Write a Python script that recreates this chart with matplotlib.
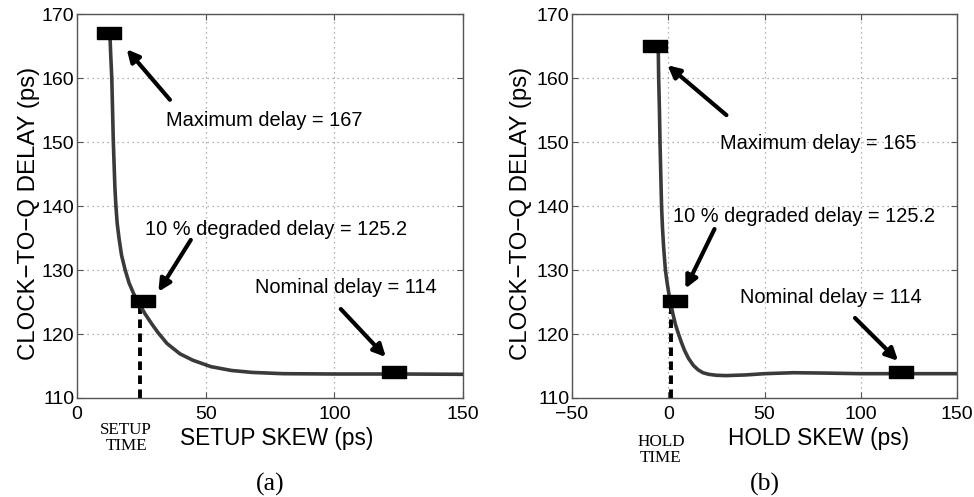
import matplotlib
matplotlib.use('Agg')
import matplotlib.pyplot as plt

plt.rcParams['font.family'] = ['Liberation Sans', 'DejaVu Sans']

# (a) setup skew sweep
setup_skew = [12.8, 13.1, 13.5, 13.8, 14.1, 14.4, 14.7, 15.1, 15.6, 16.3, 17.3, 18.7, 20.2,
              22.0, 24.0, 26.5, 29.0, 31.5, 35.0, 40.0, 45.0, 52.0, 60.0, 68.0, 80.0,
              100.0, 125.0, 150.0]
setup_delay = [166.5, 163.5, 160.0, 155.0, 150.0, 146.5, 143.0, 140.0, 137.3, 135.0, 132.3,
               130.0, 128.0, 126.3, 124.8, 123.1, 121.6, 120.2, 118.5, 116.9, 115.9, 114.9,
               114.3, 114.0, 113.8, 113.75, 113.75, 113.7]
setup_marks_x = [12.3, 25.5, 123.0]
setup_marks_y = [167.0, 125.2, 114.0]
setup_time = 24.6

# (b) hold skew sweep
hold_skew = [-5.2, -5.0, -4.6, -4.3, -3.9, -3.5, -3.0, -2.4, -1.5, -0.6, 0.3, 1.0, 2.5, 3.8,
             5.3, 6.8, 8.5, 10.5, 13.0, 15.5, 18.0, 21.0, 25.0, 30.0, 40.0, 50.0, 65.0,
             80.0, 100.0, 125.0, 150.0]
hold_delay = [164.5, 160.0, 155.0, 150.0, 145.0, 140.0, 136.5, 133.5, 130.0, 128.0, 126.3,
              125.2, 123.0, 121.4, 120.0, 118.7, 117.4, 116.2, 115.1, 114.4, 113.95, 113.7,
              113.55, 113.5, 113.6, 113.8, 113.95, 113.9, 113.8, 113.8, 113.8]
hold_marks_x = [-6.8, 3.3, 121.0]
hold_marks_y = [165.0, 125.2, 114.0]
hold_time = 1.5

setup_notes = [
    ('Maximum delay = 167', (34.5, 153.4), (36.1, 156.6), (19.3, 164.5)),
    ('10 % degraded delay = 125.2', (26.4, 136.3), (44.2, 134.7), (31.6, 126.6)),
    ('Nominal delay = 114', (69.2, 127.3), (102.5, 123.9), (120.0, 116.4)),
]
hold_notes = [
    ('Maximum delay = 165', (26.7, 149.8), (30.2, 154.2), (-0.4, 162.0)),
    ('10 % degraded delay = 125.2', (2.4, 138.3), (24.0, 136.4), (8.9, 127.1)),
    ('Nominal delay = 114', (37.1, 125.7), (97.0, 122.5), (119.4, 115.8)),
]

# wide flat rectangle used as the point marker
rect = [(-1, -0.48), (1, -0.48), (1, 0.48), (-1, 0.48), (-1, -0.48)]

fig = plt.figure(figsize=(9.74, 4.97), dpi=100)
ax1 = fig.add_axes([0.0791, 0.1992, 0.3963, 0.7726])
ax2 = fig.add_axes([0.5873, 0.1992, 0.3953, 0.7726])


def draw_panel(ax, xs, ys, mx, my, tmark, notes, xlim, xticks, xlabel, xlabel_x,
               ylabel_x, tlabel, tlabel_pos, caption):
    ax.plot(xs, ys, color='#3a3a3a', linewidth=2.6, zorder=3)
    ax.plot([tmark, tmark], [110, my[1]], color='black', linestyle=(0, (2.2, 1.4)),
            linewidth=2.8, zorder=2)
    ax.plot(mx, my, linestyle='none', marker=rect, markersize=17.5,
            color='black', zorder=4)
    for text, tpos, tail, head in notes:
        ax.text(tpos[0], tpos[1], text, fontsize=14.4, va='center', ha='left', zorder=5)
        ax.annotate('', xy=head, xytext=tail,
                    arrowprops=dict(arrowstyle='-|>', color='black', lw=3,
                                    mutation_scale=18, shrinkA=0, shrinkB=0))
    ax.set_xlim(*xlim)
    ax.set_ylim(110, 170)
    ax.set_xticks(xticks)
    ax.set_xticklabels([str(t).replace('-', '\u2212') for t in xticks])
    ax.set_yticks([110, 120, 130, 140, 150, 160, 170])
    ax.grid(True, linestyle=(0, (1, 3)), color='#999999', linewidth=0.9)
    ax.tick_params(direction='in', length=4, labelsize=14, pad=2,
                   top=True, right=True, color='#555555')
    ax.tick_params(axis='x', pad=5.5)
    for s in ax.spines.values():
        s.set_color('#555555')
        s.set_linewidth(1.0)
    ax.set_xlabel(xlabel, fontsize=16.3)
    ax.xaxis.set_label_coords(xlabel_x, -0.075)
    ax.xaxis.label.set_va('top')
    ax.set_ylabel('CLOCK\u2212TO\u2212Q DELAY (ps)', fontsize=17.3)
    ax.yaxis.set_label_coords(ylabel_x, 0.48)
    ax.text(tlabel_pos[0], tlabel_pos[1], tlabel, transform=ax.transAxes,
            ha='center', va='top', family='Liberation Serif', fontsize=12.3,
            linespacing=1.05)
    ax.text(0.5, -0.195, caption, transform=ax.transAxes, ha='center', va='top',
            family='Liberation Serif', fontsize=18.5)


draw_panel(ax1, setup_skew, setup_delay, setup_marks_x, setup_marks_y, setup_time,
           setup_notes, (0, 150), [0, 50, 100, 150], 'SETUP SKEW (ps)', 0.516, -0.096,
           'SETUP\nTIME', (0.127, -0.062), '(a)')
draw_panel(ax2, hold_skew, hold_delay, hold_marks_x, hold_marks_y, hold_time,
           hold_notes, (-50, 150), [-50, 0, 50, 100, 150], 'HOLD SKEW (ps)', 0.64, -0.104,
           'HOLD\nTIME', (0.231, -0.093), '(b)')

fig.savefig('out.png', dpi=100)
